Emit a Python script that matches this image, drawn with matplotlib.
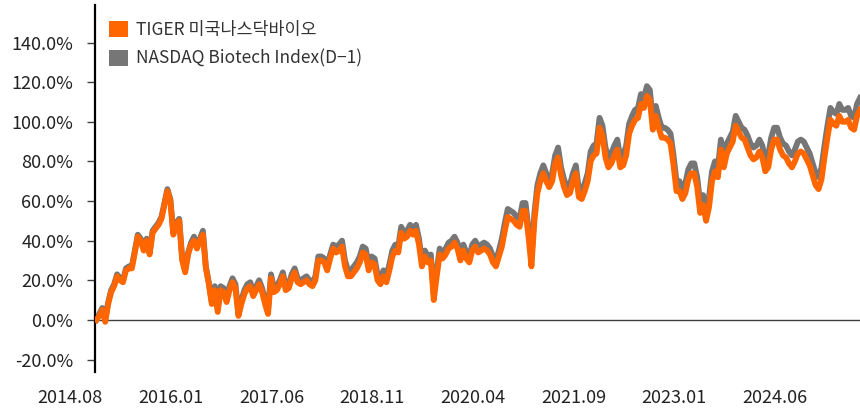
import matplotlib
matplotlib.use('Agg')
import matplotlib.pyplot as plt
import matplotlib.transforms as mtransforms
from matplotlib.patches import Patch
import numpy as np

plt.rcParams['font.family'] = ['Noto Sans CJK KR', 'DejaVu Sans']

# 누적 수익률 (%), 반월 간격 샘플
tiger = [
    0, 2, 5, -1, 8, 14, 17, 22, 20, 19,
    25, 26, 26, 34, 42, 40, 35, 40, 33, 44,
    46, 48, 51, 58, 65, 60, 43, 48, 50, 30,
    24, 33, 38, 40, 36, 40, 43, 26, 18, 8,
    15, 4, 15, 14, 9, 15, 19, 16, 2, 8,
    13, 16, 17, 12, 15, 18, 14, 8, 3, 21,
    14, 15, 18, 22, 15, 16, 21, 24, 19, 18,
    19, 20, 18, 17, 20, 30, 30, 29, 25, 31,
    36, 34, 35, 37, 27, 22, 22, 24, 26, 29,
    34, 33, 25, 29, 28, 20, 18, 22, 19, 25,
    32, 35, 34, 44, 41, 42, 45, 43, 45, 38,
    27, 32, 29, 30, 10, 22, 33, 31, 33, 36,
    37, 39, 36, 30, 35, 31, 29, 35, 37, 34,
    35, 36, 35, 33, 29, 27, 32, 37, 45, 52,
    51, 50, 48, 47, 55, 55, 42, 27, 50, 64,
    70, 74, 70, 67, 70, 79, 82, 73, 67, 63,
    64, 70, 74, 62, 61, 65, 70, 80, 83, 84,
    97, 93, 82, 77, 79, 83, 86, 77, 78, 83,
    94, 98, 101, 102, 109, 107, 113, 111, 96, 103,
    97, 92, 92, 91, 89, 78, 65, 65, 61, 64,
    71, 74, 74, 67, 54, 58, 50, 57, 70, 75,
    72, 86, 77, 84, 87, 90, 98, 95, 92, 91,
    87, 83, 81, 82, 85, 82, 75, 77, 86, 91,
    91, 86, 83, 82, 79, 77, 80, 84, 85, 84,
    81, 78, 73, 68, 66, 71, 82, 92, 101, 99,
    98, 103, 100, 100, 101, 97, 96, 103, 106,
]

nasdaq = [
    0, 3, 6, 0, 9, 15, 18, 23, 21, 20,
    26, 27, 27, 35, 43, 41, 36, 41, 34, 45,
    47, 49, 52, 59, 66, 61, 44, 49, 51, 31,
    25, 34, 39, 42, 37, 41, 45, 27, 19, 9,
    17, 6, 17, 16, 11, 17, 21, 18, 3, 10,
    15, 18, 19, 14, 17, 20, 16, 10, 5, 23,
    16, 17, 20, 24, 17, 18, 23, 26, 21, 20,
    21, 22, 20, 19, 22, 32, 32, 31, 27, 33,
    38, 37, 38, 40, 30, 25, 25, 27, 29, 32,
    37, 36, 28, 32, 31, 23, 21, 25, 22, 28,
    35, 38, 37, 47, 44, 45, 48, 46, 48, 41,
    30, 35, 32, 33, 13, 25, 36, 34, 36, 39,
    40, 42, 39, 33, 38, 34, 32, 38, 40, 37,
    38, 39, 38, 36, 32, 30, 35, 41, 49, 56,
    55, 54, 52, 51, 59, 59, 46, 31, 54, 68,
    74, 78, 74, 71, 74, 83, 87, 77, 71, 67,
    68, 74, 78, 66, 65, 69, 74, 85, 88, 89,
    102, 98, 87, 82, 84, 88, 91, 82, 83, 88,
    99, 103, 106, 107, 114, 112, 118, 116, 101, 108,
    102, 97, 97, 96, 94, 83, 70, 70, 66, 69,
    76, 79, 79, 72, 59, 63, 55, 62, 75, 80,
    77, 91, 82, 89, 92, 95, 103, 100, 97, 96,
    93, 89, 87, 88, 91, 88, 81, 83, 92, 97,
    97, 92, 89, 88, 85, 83, 86, 90, 91, 90,
    87, 84, 79, 74, 72, 77, 88, 98, 107, 105,
    104, 109, 106, 106, 107, 103, 102, 109, 112,
]

date_labels = ['2014.08', '2016.01', '2017.06', '2018.11',
               '2020.04', '2021.09', '2023.01', '2024.06']
label_step = 34  # 샘플 간격 (17개월)
y_ticks = [-20, 0, 20, 40, 60, 80, 100, 120, 140]

ORANGE = '#FF6600'
GRAY = '#767676'

fig = plt.figure(figsize=(8.6, 4.09), dpi=100)
ax = fig.add_axes([0.111, 0.0905, 0.889, 0.8975])

x = np.arange(len(tiger))
ax.plot(x, nasdaq, color=GRAY, lw=4.2, zorder=2)
ax.plot(x, tiger, color=ORANGE, lw=4.2, zorder=3)
ax.axhline(0, color='#404040', lw=1.0, zorder=1)

ax.set_xlim(-0.3, len(tiger) - 1)
ax.set_ylim(-26.3, 159)

ax.set_yticks(y_ticks)
ax.set_yticklabels([f'{v:.1f}%' for v in y_ticks])
ax.tick_params(axis='y', direction='out', length=6, width=1, color='#404040',
               pad=10, labelsize=13, labelcolor='#222222')

ax.set_xticks(np.arange(len(date_labels)) * label_step)
ax.set_xticklabels(date_labels)
ax.tick_params(axis='x', length=0, pad=12, labelsize=13, labelcolor='#222222')
shift = mtransforms.ScaledTranslation(-0.26, 0, fig.dpi_scale_trans)
for lbl in ax.get_xticklabels():
    lbl.set_transform(lbl.get_transform() + shift)

for side in ['top', 'right', 'bottom']:
    ax.spines[side].set_visible(False)
ax.spines['left'].set_linewidth(1.6)
ax.spines['left'].set_color('black')

handles = [Patch(facecolor=ORANGE, edgecolor='none', label='TIGER 미국나스닥바이오'),
           Patch(facecolor=GRAY, edgecolor='none', label='NASDAQ Biotech Index(D\u22121)')]
ax.legend(handles=handles, loc='upper left', bbox_to_anchor=(0.0177, 0.957),
          frameon=False, fontsize=12.5, handlelength=1.1, handleheight=1.1,
          handletextpad=0.45, labelspacing=0.62, borderpad=0, borderaxespad=0,
          labelcolor='#333333')

fig.savefig('out.png', dpi=100)
